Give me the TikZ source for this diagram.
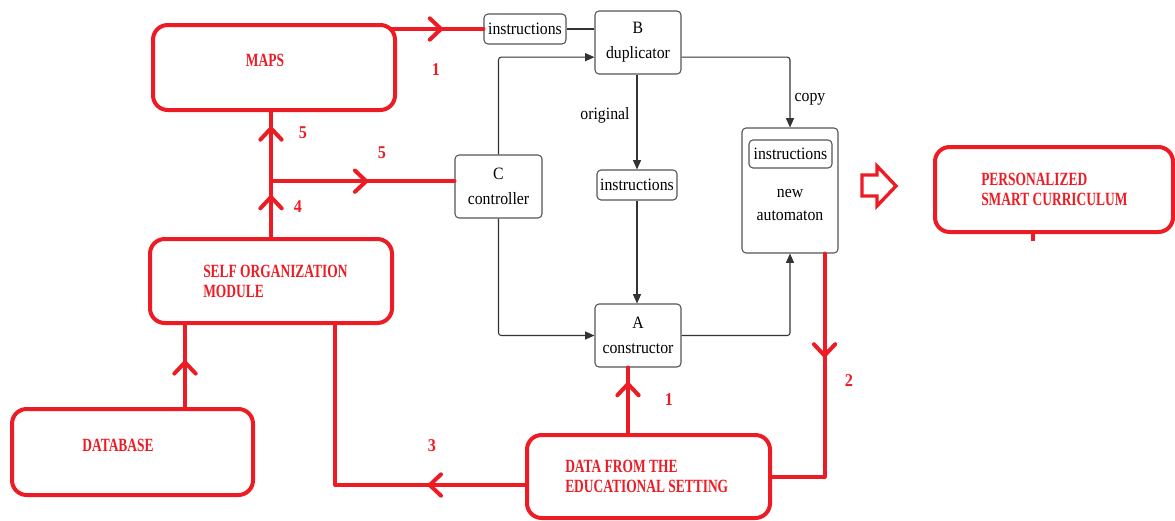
\documentclass[tikz,border=0pt]{standalone}
\usepackage{fontspec}
\setmainfont{Liberation Serif}
\newfontfamily\boxfont[FakeStretch=0.72]{Liberation Serif}
\newfontfamily\blkfont[FakeStretch=0.91]{Liberation Serif}
\newfontfamily\numfont[FakeStretch=0.9]{Liberation Serif}
\usetikzlibrary{arrows.meta,decorations.markings,calc}
\definecolor{pred}{HTML}{ED1C24}
\definecolor{bgray}{HTML}{555555}
\tikzset{
  redbarb/.tip={Straight Barb[length=8.5pt 0 0,width=16pt 0 0,round]},
  redbox/.style={draw=pred,line width=3pt,rounded corners=11pt,inner sep=0pt},
  graybox/.style={draw=bgray,line width=0.8pt,rounded corners=3pt,inner sep=0pt,
    align=center,font=\blkfont\fontsize{13}{19}\selectfont},
  redtxt/.style={text=pred,inner sep=0pt,align=left,font=\boxfont\bfseries\fontsize{14}{15}\selectfont},
  num/.style={text=pred,inner sep=0pt,font=\numfont\bfseries\fontsize{13.5}{15}\selectfont},
  blktxt/.style={inner sep=0pt,align=center,font=\blkfont\fontsize{13}{17}\selectfont},
  redline/.style={draw=pred,line width=3pt,line cap=round,line join=round},
  chev/.style={postaction={decorate,decoration={markings,mark=at position #1 with {\arrow{redbarb}}}}},
  gline/.style={draw=black!80,line width=0.8pt,rounded corners=2pt,-{Triangle[length=7pt,width=6pt]}},
}
\begin{document}
\begin{tikzpicture}[x=0.75pt,y=-0.75pt]
\useasboundingbox (0,0) rectangle (1175,521);

% red modules
\node[redbox,minimum width=181.5pt,minimum height=63.75pt] (maps) at (274,67.5) {};
\node[redbox,minimum width=181.5pt,minimum height=63pt] (som) at (271,281) {};
\node[redbox,minimum width=180.75pt,minimum height=64.5pt] (db) at (132.5,452) {};
\node[redbox,minimum width=182.25pt,minimum height=62.25pt] (data) at (648.5,476.5) {};
\node[redbox,minimum width=178.5pt,minimum height=63.75pt] (psc) at (1054,189.5) {};

\node[redtxt] (mapslbl) at (265,60) {MAPS};
\node[redtxt,anchor=west] (somlbl) at (203,281) {SELF ORGANIZATION\\MODULE};
\node[redtxt] (dblbl) at (118,445) {DATABASE};
\node[redtxt,anchor=west] (datalbl) at (565,476) {DATA FROM THE\\EDUCATIONAL SETTING};
\node[redtxt,anchor=west] (psclbl) at (981,189.5) {PERSONALIZED\\SMART CURRICULUM};

% self-reproducing automaton
\node[graybox,minimum width=61.5pt,minimum height=22.5pt] (ins1) at (525,29) {instructions};
\node[graybox,minimum width=64.5pt,minimum height=47.25pt] (dup) at (638,42.5) {B\\duplicator};
\node[graybox,minimum width=65.25pt,minimum height=47.25pt] (ctl) at (498.5,186.5) {C\\controller};
\node[graybox,minimum width=60pt,minimum height=22.5pt] (ins2) at (637,185) {instructions};
\node[graybox,minimum width=64.5pt,minimum height=47.25pt] (con) at (638,335.5) {A\\constructor};
\node[graybox,minimum width=72pt,minimum height=93.75pt] (newa) at (790,190.5) {};
\node[graybox,minimum width=62.25pt,minimum height=21pt] (ins3) at (790.5,154) {instructions};
\node[blktxt] (newlbl) at (790,205) {new\\automaton};
\node[blktxt] (orig) at (605,115) {original};
\node[blktxt] (copy) at (810,99) {copy};

\draw[draw=black!80,line width=0.8pt] (ins1.east) -- (ins1.east -| dup.west);
\draw[gline] (ctl.north) |- ([yshift=-11pt]dup.west);
\draw[gline] (ctl.south) |- (con.west);
\draw[gline] (ins2.north |- dup.south) -- (ins2.north);
\draw[gline] (ins2.south) -- (ins2.south |- con.north);
\draw[gline] ([yshift=-11pt]dup.east) -| (newa.north);
\draw[gline] (con.east) -| (newa.south);

% red flows
\draw[redline,chev=0.56] ([xshift=-4pt]ins1.west -| maps.east) -- (ins1.west);
\draw[redline,chev=0.78] ([xshift=-7.5pt]con.south |- data.north) -- ([xshift=-7.5pt]con.south);
\draw[redline,chev=78pt] ([xshift=-10.5pt]newa.south east) |- (data.east);
\draw[redline,chev=73pt] ([yshift=-6.4pt]data.west) -| ([xshift=-44pt]som.south east);
\draw[redline,chev=0.57] ([xshift=131.25pt]db.north west) -- ([xshift=131.25pt]db.north west |- som.south);
\draw[redline,chev=31.5pt,chev=83pt] (som.north) -- (som.north |- maps.south);
\draw[redline,chev=0.53] ([yshift=4pt]ctl.west -| som.north) -- ([yshift=4pt]ctl.west);

% step numbers
\node[num] (n1a) at (436,70) {1};
\node[num] (n1b) at (669,400) {1};
\node[num] (n2) at (849,381) {2};
\node[num] (n3) at (432,446) {3};
\node[num] (n5a) at (303,133) {5};
\node[num] (n4) at (298,207) {4};
\node[num] (n5b) at (382,153) {5};

% outcome arrow and tick
\draw[draw=pred,line width=2.5pt,line join=miter,fill=white]
  (862,175) -- (877,175) -- (877,166) -- (896,186) -- (877,206) -- (877,196) -- (862,196) -- cycle;
\draw[draw=pred,line width=2.5pt] ([xshift=-15.75pt]psc.south) -- ++(0,7);
\end{tikzpicture}
\end{document}
